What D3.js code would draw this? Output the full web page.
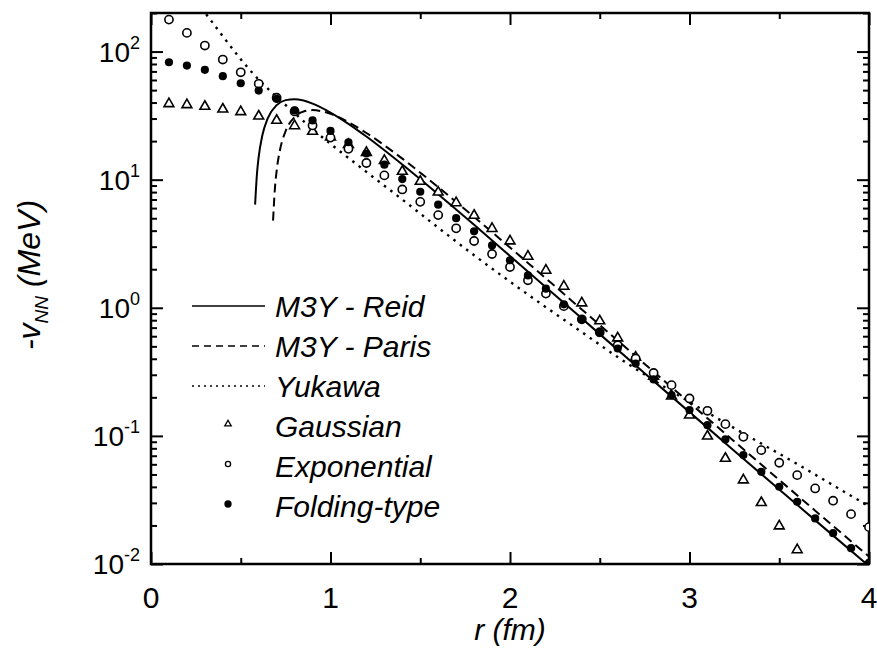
<!DOCTYPE html>
<html>
<head>
<meta charset="utf-8">
<script src="https://cdn.jsdelivr.net/npm/d3@7"></script>
<style>
  body { margin: 0; background: #fff; }
  svg { display: block; font-family: "Liberation Sans", Arial, sans-serif; }
  .axis path { display: none; }
  .axis line { stroke: #000; stroke-width: 2px; }
</style>
</head>
<body>
<div id="chart-area"></div>
<script>
// r (fm) for the symbol series, step 0.1
var rPts = [0.1, 0.2, 0.3, 0.4, 0.5, 0.6, 0.7, 0.8, 0.9, 1.0,
            1.1, 1.2, 1.3, 1.4, 1.5, 1.6, 1.7, 1.8, 1.9, 2.0,
            2.1, 2.2, 2.3, 2.4, 2.5, 2.6, 2.7, 2.8, 2.9, 3.0,
            3.1, 3.2, 3.3, 3.4, 3.5, 3.6, 3.7, 3.8, 3.9, 4.0];

// -v_NN (MeV)
var gaussian = [39.1, 38.4, 37.3, 35.5, 33.9, 31.3, 29.0, 26.3, 23.8, 21.5,
                18.8, 16.3, 14.1, 11.6, 9.69, 7.98, 6.59, 5.26, 4.15, 3.32,
                2.52, 1.96, 1.47, 1.09, 0.789, 0.581, 0.411, 0.292, 0.204, 0.145,
                0.0995, 0.0667, 0.0452, 0.0301, 0.0198, 0.0129];
var exponential = [177.6, 139.9, 111.4, 86.6, 68.9, 56.0, 43.6, 34.1, 26.5, 21.3,
                   17.4, 13.5, 10.8, 8.39, 6.71, 5.29, 4.17, 3.32, 2.63, 2.08,
                   1.64, 1.29, 1.03, 0.813, 0.644, 0.510, 0.402, 0.310, 0.249, 0.196,
                   0.157, 0.1235, 0.0983, 0.0774, 0.0617, 0.0494, 0.0389, 0.0312, 0.0245, 0.0194];
var folding = [82.5, 77.8, 72.0, 64.2, 56.6, 49.6, 42.8, 34.7, 29.0, 24.0,
               19.6, 16.0, 13.1, 10.1, 8.05, 6.38, 5.01, 3.95, 3.07, 2.35,
               1.79, 1.41, 1.065, 0.809, 0.636, 0.481, 0.367, 0.276, 0.208, 0.159,
               0.1213, 0.0938, 0.0708, 0.0524, 0.0401, 0.0306, 0.0227, 0.0174, 0.0133, 0.0102];

// curves
var reidR = [0.58, 0.59, 0.60, 0.62, 0.65, 0.70, 0.75, 0.80, 0.85, 0.90, 1.0, 1.1, 1.2,
             1.4, 1.6, 1.8, 2.0, 2.25, 2.5, 2.75, 3.0, 3.25, 3.5, 3.75, 4.0];
var reidV = [6.39, 10.97, 15.09, 22.11, 30.08, 38.18, 41.79, 42.51, 41.43, 39.26, 33.44, 27.29, 21.71,
             13.13, 7.694, 4.439, 2.540, 1.259, 0.6228, 0.3086, 0.1533, 0.07636, 0.03817, 0.01914, 0.009632];
var parisR = [0.68, 0.69, 0.70, 0.72, 0.75, 0.80, 0.85, 0.90, 0.95, 1.0, 1.1, 1.2,
              1.4, 1.6, 1.8, 2.0, 2.25, 2.5, 2.75, 3.0, 3.25, 3.5, 3.75, 4.0];
var parisV = [4.79, 8.43, 11.73, 17.42, 23.96, 30.80, 34.04, 34.91, 34.26, 32.67, 28.12, 23.14,
              14.59, 8.747, 5.117, 2.956, 1.475, 0.7336, 0.3646, 0.1815, 0.09053, 0.04530, 0.02273, 0.01144];
var yukR = [0.28, 0.33, 0.4, 0.5, 0.6, 0.7, 0.8, 0.9, 1.0, 1.2, 1.4, 1.6,
            1.8, 2.0, 2.2, 2.4, 2.6, 2.8, 3.0, 3.2, 3.4, 3.6, 3.8, 4.0];
var yukV = [218.8, 177.8, 131.8, 87.1, 60.3, 44.2, 33.1, 24.8, 19.05, 11.5, 7.0, 4.22,
            2.57, 1.60, 1.01, 0.646, 0.412, 0.272, 0.184, 0.126, 0.0871, 0.0603, 0.0412, 0.0282];

// ticks
var xMajor = [0, 1, 2, 3, 4];
var xMinor = [0.5, 1.5, 2.5, 3.5];
var yMajor = [0.01, 0.1, 1, 10, 100];
var yExp = ["-2", "-1", "0", "1", "2"];
var yMinor = [];
yMajor.forEach(function(p) {
    [2, 3, 4, 5, 6, 7, 8, 9].forEach(function(m) { if (p * m <= 200) yMinor.push(p * m); });
});

var W = 877, H = 666;
var pL = 151, pR = 869, pT = 13, pB = 564;

var svg = d3.select("#chart-area").append("svg")
    .attr("width", W)
    .attr("height", H);

var x = d3.scaleLinear().domain([0, 4]).range([pL, pR]);
var y = d3.scaleLog().domain([0.01, 200]).range([pB, pT]);

svg.append("defs").append("clipPath").attr("id", "plot")
  .append("rect")
    .attr("x", pL).attr("y", pT)
    .attr("width", pR - pL).attr("height", pB - pT);

// Axes (ticks point inside on all four sides)
function addAxis(gen, tx, ty, vals, len) {
    return svg.append("g")
        .attr("class", "axis")
        .attr("transform", "translate(" + tx + "," + ty + ")")
        .call(gen.tickValues(vals).tickSizeInner(-len).tickSizeOuter(0).tickFormat(""));
}
addAxis(d3.axisBottom(x), 0, pB, xMajor, 12);
addAxis(d3.axisBottom(x), 0, pB, xMinor, 6);
addAxis(d3.axisTop(x), 0, pT, xMajor, 12);
addAxis(d3.axisTop(x), 0, pT, xMinor, 6);
addAxis(d3.axisLeft(y), pL, 0, yMajor, 12);
addAxis(d3.axisLeft(y), pL, 0, yMinor, 6);
addAxis(d3.axisRight(y), pR, 0, yMajor, 12);
addAxis(d3.axisRight(y), pR, 0, yMinor, 6);

// frame
svg.append("rect")
    .attr("x", pL).attr("y", pT)
    .attr("width", pR - pL).attr("height", pB - pT)
    .attr("fill", "none")
    .attr("stroke", "#000")
    .attr("stroke-width", 2.5);

// x tick labels
svg.append("g").selectAll("text")
    .data(xMajor)
  .enter().append("text")
    .attr("x", function(d) { return x(d); })
    .attr("y", pB + 44)
    .attr("text-anchor", "middle")
    .attr("font-size", "30px")
    .text(function(d) { return d; });

// y tick labels 10^n
var yl = svg.append("g").selectAll("text")
    .data(yMajor)
  .enter().append("text")
    .attr("x", pL - 11)
    .attr("y", function(d) { return y(d) + 10; })
    .attr("text-anchor", "end")
    .attr("font-size", "28px");
yl.append("tspan").text("10");
yl.append("tspan")
    .attr("dy", -13)
    .attr("font-size", "18px")
    .text(function(d, i) { return yExp[i]; });

// axis titles
svg.append("text")
    .attr("x", (pL + pR) / 2)
    .attr("y", 640)
    .attr("text-anchor", "middle")
    .attr("font-size", "30px")
    .attr("font-style", "italic")
    .text("r (fm)");

var yt = svg.append("text")
    .attr("transform", "translate(40,275) rotate(-90)")
    .attr("text-anchor", "middle")
    .attr("font-size", "32px")
    .attr("font-style", "italic");
yt.append("tspan").text("-v");
yt.append("tspan").attr("dy", 8).attr("font-size", "19px").text("NN");
yt.append("tspan").attr("dy", -8).text(" (MeV)");

// curves
var plot = svg.append("g").attr("clip-path", "url(#plot)");
var line = d3.line()
    .x(function(d) { return x(d[0]); })
    .y(function(d) { return y(d[1]); })
    .curve(d3.curveMonotoneX);

function addCurve(rs, vs, dash, sw) {
    plot.append("path")
        .datum(rs.map(function(r, i) { return [r, vs[i]]; }))
        .attr("fill", "none")
        .attr("stroke", "#000")
        .attr("stroke-width", sw)
        .attr("stroke-dasharray", dash)
        .attr("d", line);
}
addCurve(reidR, reidV, null, 2);
addCurve(parisR, parisV, "9,5", 2);
addCurve(yukR, yukV, "2.5,5.5", 2.4);

// symbol series
var tri = d3.symbol().type(d3.symbolTriangle).size(42);
plot.append("g").selectAll("path")
    .data(gaussian)
  .enter().append("path")
    .attr("transform", function(d, i) { return "translate(" + x(rPts[i]) + "," + y(d) + ")"; })
    .attr("d", tri)
    .attr("fill", "#fff")
    .attr("stroke", "#000")
    .attr("stroke-width", 1.6);

plot.append("g").selectAll("circle")
    .data(exponential)
  .enter().append("circle")
    .attr("cx", function(d, i) { return x(rPts[i]); })
    .attr("cy", function(d) { return y(d); })
    .attr("r", 4.1)
    .attr("fill", "#fff")
    .attr("stroke", "#000")
    .attr("stroke-width", 1.6);

plot.append("g").selectAll("circle")
    .data(folding)
  .enter().append("circle")
    .attr("cx", function(d, i) { return x(rPts[i]); })
    .attr("cy", function(d) { return y(d); })
    .attr("r", 4.1)
    .attr("fill", "#000");

// legend
var legNames = ["M3Y - Reid", "M3Y - Paris", "Yukawa", "Gaussian", "Exponential", "Folding-type"];
var legDash = [null, "7,5", "2,4"];
var leg = svg.append("g").attr("transform", "translate(0,306)");
legNames.forEach(function(name, i) {
    var gy = i * 40;
    if (i < 3) {
        leg.append("line")
            .attr("x1", 192).attr("x2", 265)
            .attr("y1", gy).attr("y2", gy)
            .attr("stroke", "#000")
            .attr("stroke-width", 1.6)
            .attr("stroke-dasharray", legDash[i]);
    } else if (i == 3) {
        leg.append("path")
            .attr("transform", "translate(228," + (gy - 2) + ")")
            .attr("d", d3.symbol().type(d3.symbolTriangle).size(18))
            .attr("fill", "none").attr("stroke", "#000").attr("stroke-width", 1.3);
    } else {
        leg.append("circle")
            .attr("cx", 228).attr("cy", gy - 2)
            .attr("r", i == 4 ? 2.6 : 3)
            .attr("fill", i == 4 ? "none" : "#000")
            .attr("stroke", "#000").attr("stroke-width", 1.3);
    }
    leg.append("text")
        .attr("x", 275)
        .attr("y", gy + 11)
        .attr("font-size", "30px")
        .attr("font-style", "italic")
        .text(name);
});
</script>
</body>
</html>
